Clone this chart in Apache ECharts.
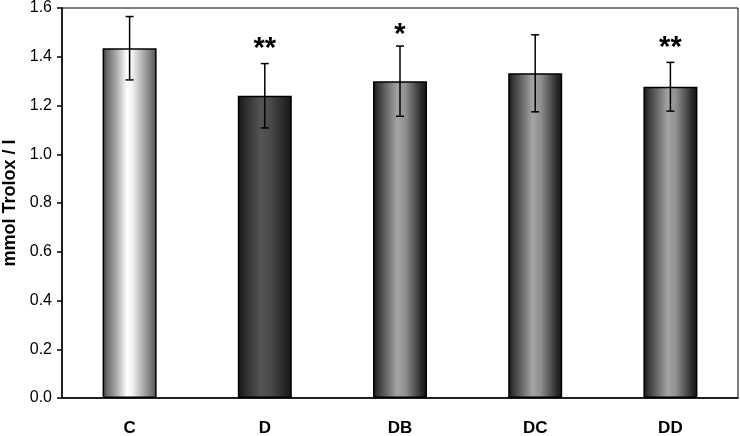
<!DOCTYPE html>
<html><head><meta charset="utf-8">
<script src="https://cdn.jsdelivr.net/npm/echarts@6/dist/echarts.min.js"></script>
<style>html,body{margin:0;padding:0;background:#fff}#c{width:740px;height:436px}</style>
</head><body><div id="c"></div>
<script>
const categories = ['C', 'D', 'DB', 'DC', 'DD'];
const means = [1.435, 1.240, 1.300, 1.332, 1.277];
const errors = [0.130, 0.132, 0.144, 0.158, 0.100];
const stars = ['', '**', '*', '', '**'];
const yTicks = [0, 0.2, 0.4, 0.6, 0.8, 1.0, 1.2, 1.4, 1.6];

function grad(stops) {
  return new echarts.graphic.LinearGradient(0, 0, 1, 0, stops.map(s => ({offset: s[0], color: s[1]})));
}
const fills = [
  grad([[0,'#3a3a3a'],[0.08,'#6a6a6a'],[0.25,'#a8a8a8'],[0.45,'#ffffff'],[0.55,'#f2f2f2'],[0.8,'#9a9a9a'],[0.95,'#666'],[1,'#444']]),
  grad([[0,'#151515'],[0.1,'#262626'],[0.42,'#545454'],[0.6,'#4a4a4a'],[0.9,'#222'],[1,'#151515']]),
  grad([[0,'#151515'],[0.1,'#3a3a3a'],[0.45,'#a4a4a4'],[0.6,'#909090'],[0.9,'#2a2a2a'],[1,'#151515']]),
  grad([[0,'#151515'],[0.1,'#3a3a3a'],[0.45,'#a4a4a4'],[0.6,'#909090'],[0.9,'#2a2a2a'],[1,'#151515']]),
  grad([[0,'#151515'],[0.1,'#3a3a3a'],[0.45,'#a4a4a4'],[0.6,'#909090'],[0.9,'#2a2a2a'],[1,'#151515']])
];

const chart = echarts.init(document.getElementById('c'), null, {renderer: 'canvas'});
chart.setOption({
  animation: false,
  backgroundColor: '#fff',
  grid: {left: 62, right: 2, top: 8, bottom: 38, outerBoundsMode: 'none', containLabel: false,
    show: true, borderColor: '#000', borderWidth: 1, backgroundColor: 'transparent'},
  xAxis: {
    type: 'category', data: categories,
    axisLine: {lineStyle: {color: '#000', width: 1.5}},
    axisTick: {show: false},
    axisLabel: {color: '#000', fontFamily: 'Liberation Sans, Arial', fontWeight: 'bold', fontSize: 17, margin: 22}
  },
  yAxis: {
    type: 'value', min: 0, max: 1.6, interval: 0.2,
    name: 'mmol Trolox / l', nameLocation: 'middle', nameGap: 41,
    nameTextStyle: {color: '#000', fontFamily: 'Liberation Sans, Arial', fontWeight: 'bold', fontSize: 18},
    axisLine: {show: true, lineStyle: {color: '#000', width: 1.5}},
    axisTick: {show: true, inside: false, length: 5, lineStyle: {color: '#000', width: 1.5}},
    splitLine: {show: false},
    axisLabel: {color: '#000', fontFamily: 'Liberation Sans, Arial', fontSize: 16, margin: 10,
      formatter: v => { const t = yTicks.find(x => Math.abs(x - v) < 1e-9); return (t !== undefined ? t : v).toFixed(1); }}
  },
  series: [
    {
      type: 'bar', barWidth: 54,
      data: means.map((v, i) => ({value: v, itemStyle: {color: fills[i], borderColor: '#000', borderWidth: 1.5}})),
      z: 2
    },
    {
      type: 'custom', z: 5,
      data: means.map((v, i) => [i, v, errors[i], stars[i]]),
      renderItem: function (params, api) {
        const i = api.value(0), m = api.value(1), e = api.value(2);
        const hi = api.coord([i, m + e]), lo = api.coord([i, m - e]);
        const x = hi[0], cw = 4;
        const s = stars[params.dataIndex];
        const children = [
          {type: 'line', shape: {x1: x, y1: hi[1], x2: x, y2: lo[1]}, style: {stroke: '#000', lineWidth: 1.5}},
          {type: 'line', shape: {x1: x - cw, y1: hi[1], x2: x + cw, y2: hi[1]}, style: {stroke: '#000', lineWidth: 1.5}},
          {type: 'line', shape: {x1: x - cw, y1: lo[1], x2: x + cw, y2: lo[1]}, style: {stroke: '#000', lineWidth: 1.5}}
        ];
        if (s) {
          children.push({type: 'text', x: x, y: hi[1] + (s.length === 1 ? 3 : 0),
            style: {text: s, fill: '#000', font: 'bold 29px Liberation Sans, Arial', align: 'center', verticalAlign: 'bottom'}});
        }
        return {type: 'group', children: children};
      }
    }
  ]
});
</script></body></html>
